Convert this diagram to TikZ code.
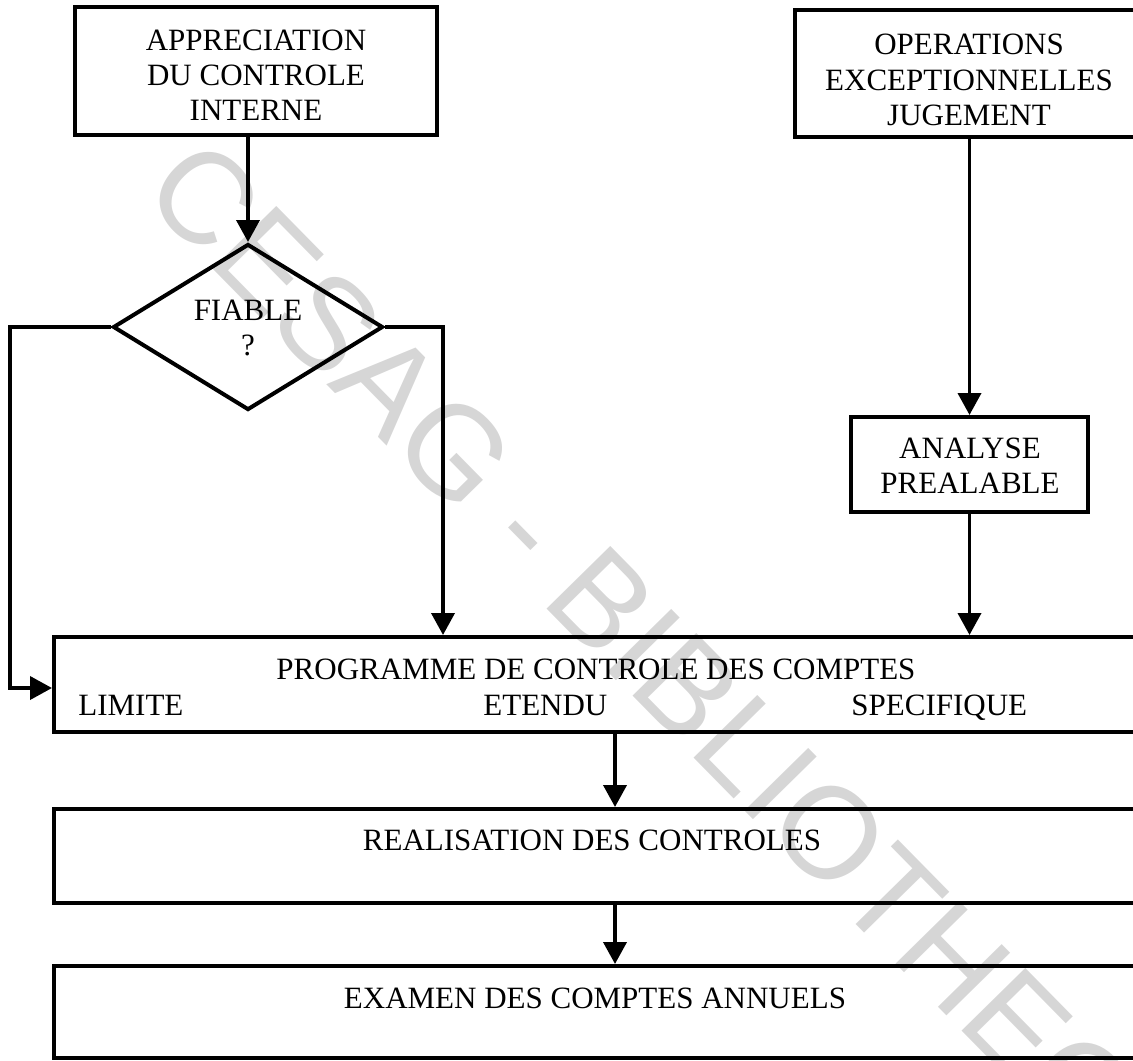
\documentclass[tikz,border=0pt]{standalone}
\usepackage{fontspec}
\setmainfont{Liberation Serif}
\newfontfamily\wmfont{Liberation Sans}
\usetikzlibrary{arrows.meta,shapes.geometric}
\definecolor{wmgray}{RGB}{214,214,214}
\begin{document}
\begin{tikzpicture}[x=0.5pt,y=-0.5pt,
  flowbox/.style={draw=black,line width=2pt,rectangle,inner sep=0pt},
  decision/.style={draw=black,line width=2pt,diamond,inner sep=0pt,minimum width=135pt,minimum height=83pt},
  lbl/.style={inner sep=0pt,font=\fontsize{15.5}{17.5}\selectfont},
  arr/.style={line width=1.9pt,-{Triangle[width=11.5pt,length=11pt]}},
  wm/.style={inner sep=0pt,text=wmgray,font=\wmfont\fontsize{65}{70}\selectfont}]
\useasboundingbox (0,0) rectangle (1133,1060);
\clip (0,0) rectangle (1133,1060);
% watermark
\node[wm,anchor=base west,rotate=-45.5] (water) at (139,194) {CESAG - BIBLIOTHEQUE};
% boxes
\node[flowbox,minimum width=181pt,minimum height=64pt] (appr) at (256,71) {};
\node[flowbox,minimum width=174pt,minimum height=63.5pt] (ops) at (969,73.5) {};
\node[decision] (dia) at (248,327) {};
\node[flowbox,minimum width=118.5pt,minimum height=47.5pt] (ana) at (969.5,464.5) {};
\node[flowbox,minimum width=543pt,minimum height=47.5pt] (prog) at (597,684.5) {};
\node[flowbox,minimum width=543pt,minimum height=47pt] (real) at (597,856) {};
\node[flowbox,minimum width=543pt,minimum height=46pt] (exam) at (597,1012) {};
% labels
\node[lbl,anchor=base] (t1a) at (256,50) {APPRECIATION};
\node[lbl,anchor=base] (t1b) at (256,85) {DU CONTROLE};
\node[lbl,anchor=base] (t1c) at (256,120) {INTERNE};
\node[lbl,anchor=base] (t2a) at (969,54) {OPERATIONS};
\node[lbl,anchor=base] (t2b) at (969,90) {EXCEPTIONNELLES};
\node[lbl,anchor=base] (t2c) at (969,125) {JUGEMENT};
\node[lbl,anchor=base] (t3a) at (248,320) {FIABLE};
\node[lbl,anchor=base] (t3b) at (248,355) {?};
\node[lbl,anchor=base] (t4a) at (970,458) {ANALYSE};
\node[lbl,anchor=base] (t4b) at (970,493) {PREALABLE};
\node[lbl,anchor=base] (t5) at (596,679) {PROGRAMME DE CONTROLE DES COMPTES};
\node[lbl,anchor=base west] (t5a) at (78,715) {LIMITE};
\node[lbl,anchor=base west] (t5b) at (483,715) {ETENDU};
\node[lbl,anchor=base west] (t5c) at (851,715) {SPECIFIQUE};
\node[lbl,anchor=base] (t6) at (592,850) {REALISATION DES CONTROLES};
\node[lbl,anchor=base] (t7) at (595,1008) {EXAMEN DES COMPTES ANNUELS};
% connector helpers
\coordinate (cL) at (10,688);
\coordinate (cR) at (443,0);
\coordinate (cM) at (615,0);
% connectors
\draw[arr] (dia.north |- appr.south) -- (dia.north);
\draw[arr] (dia.west) -| (cL) -- (cL -| prog.west);
\draw[arr] (dia.east) -| (cR |- prog.north);
\draw[arr] (ana.north |- ops.south) -- (ana.north);
\draw[arr] (ana.south) -- (ana.south |- prog.north);
\draw[arr] (cM |- prog.south) -- (cM |- real.north);
\draw[arr] (cM |- real.south) -- (cM |- exam.north);
\end{tikzpicture}
\end{document}
